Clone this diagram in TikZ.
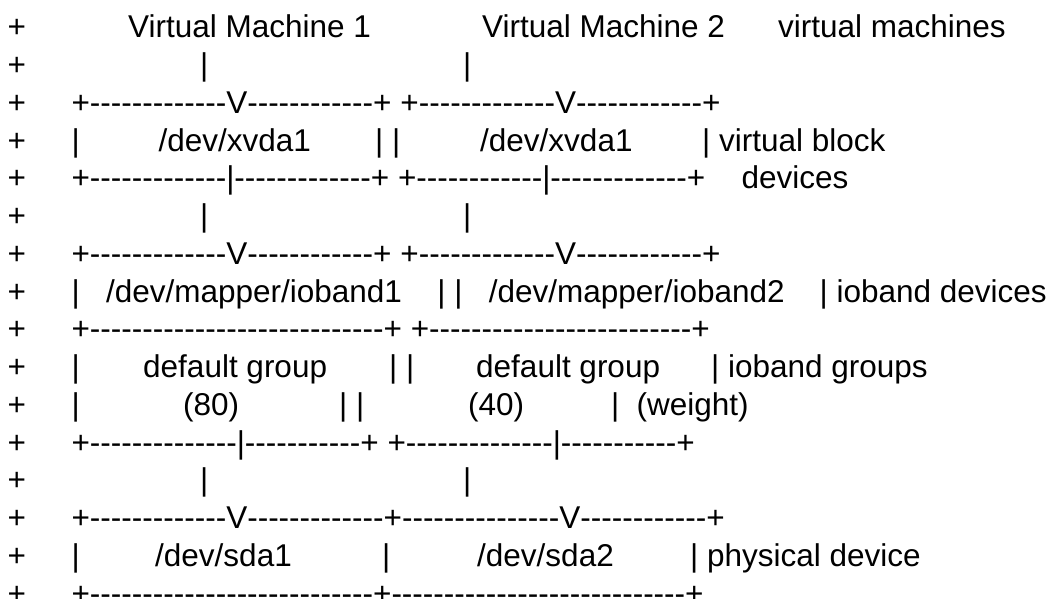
\documentclass[tikz,border=0pt]{standalone}
\usepackage{fontspec}
\newfontfamily\diagfont{Liberation Sans}
\newcommand{\dashes}[1]{\foreach \i in {1,...,#1}{\hbox{-}}}
\newcommand{\rowy}[1]{37.85+37.75*(#1-1)}

\begin{document}
\begin{tikzpicture}[x=1pt, y=-1pt,
    txt/.style={anchor=base west, inner sep=0pt,
      font=\diagfont\fontsize{31.5}{37.8}\selectfont}]
  \fill[white] (0, 0) rectangle (1062, 598);
  \useasboundingbox (0, 0) rectangle (1062, 598);

  % diff markers
  \foreach \k in {1,...,16} {
    \node[txt] (plus\k) at (7.5, {\rowy{\k}}) {+};
  }

  % virtual machines
  \node[txt] (vmA) at (128, {\rowy{1}}) {Virtual Machine 1};
  \node[txt] (vmB) at (482, {\rowy{1}}) {Virtual Machine 2};
  \node[txt] (lblvm) at (778, {\rowy{1}}) {virtual machines};

  \foreach \k in {2, 6, 13} {
    \node[txt] (downA\k) at (200, {\rowy{\k}}) {|};
    \node[txt] (downB\k) at (463, {\rowy{\k}}) {|};
  }

  % virtual block devices
  \foreach \k in {3, 7} {
    \node[txt] (topA\k) at (71.3, {\rowy{\k}}) {+\dashes{13}V\dashes{12}+};
    \node[txt] (topB\k) at (400.2, {\rowy{\k}}) {+\dashes{13}V\dashes{12}+};
  }
  \node[txt] (sideA4) at (71.3, {\rowy{4}}) {|};
  \node[txt] (xvdA) at (158.3, {\rowy{4}}) {/dev/xvda1};
  \node[txt] (sideM4) at (375, {\rowy{4}}) {| |};
  \node[txt] (xvdB) at (480, {\rowy{4}}) {/dev/xvda1};
  \node[txt] (lblvb) at (702, {\rowy{4}}) {| virtual block};
  \node[txt] (botA5) at (71.3, {\rowy{5}}) {+\dashes{13}|\dashes{13}+};
  \node[txt] (botB5) at (397.8, {\rowy{5}}) {+\dashes{12}|\dashes{13}+};
  \node[txt] (lbldev) at (741.5, {\rowy{5}}) {devices};

  % ioband devices and groups
  \node[txt] (sideA8) at (71.3, {\rowy{8}}) {|};
  \node[txt] (ibA) at (105.8, {\rowy{8}}) {/dev/mapper/ioband1};
  \node[txt] (sideM8) at (437.2, {\rowy{8}}) {| |};
  \node[txt] (ibB) at (488.6, {\rowy{8}}) {/dev/mapper/ioband2};
  \node[txt] (lblib) at (819.5, {\rowy{8}}) {| ioband devices};
  \node[txt] (midA9) at (71.3, {\rowy{9}}) {+\dashes{28}+};
  \node[txt] (midB9) at (410.6, {\rowy{9}}) {+\dashes{25}+};
  \node[txt] (sideA10) at (71.3, {\rowy{10}}) {|};
  \node[txt] (grpA) at (143, {\rowy{10}}) {default group};
  \node[txt] (sideM10) at (389, {\rowy{10}}) {| |};
  \node[txt] (grpB) at (476, {\rowy{10}}) {default group};
  \node[txt] (lblgrp) at (711, {\rowy{10}}) {| ioband groups};
  \node[txt] (sideA11) at (71.3, {\rowy{11}}) {|};
  \node[txt] (wA) at (183, {\rowy{11}}) {(80)};
  \node[txt] (sideM11) at (339, {\rowy{11}}) {| |};
  \node[txt] (wB) at (468, {\rowy{11}}) {(40)};
  \node[txt] (sideB11) at (611, {\rowy{11}}) {|};
  \node[txt] (lblw) at (636.5, {\rowy{11}}) {(weight)};
  \node[txt] (botA12) at (71.3, {\rowy{12}}) {+\dashes{14}|\dashes{11}+};
  \node[txt] (botB12) at (387.3, {\rowy{12}}) {+\dashes{14}|\dashes{11}+};

  % physical device
  \node[txt] (topP) at (71.3, {\rowy{14}}) {+\dashes{13}V\dashes{13}+\dashes{15}V\dashes{12}+};
  \node[txt] (sideA15) at (71.3, {\rowy{15}}) {|};
  \node[txt] (sdaA) at (155, {\rowy{15}}) {/dev/sda1};
  \node[txt] (sideM15) at (382, {\rowy{15}}) {|};
  \node[txt] (sdaB) at (477, {\rowy{15}}) {/dev/sda2};
  \node[txt] (lblpd) at (690, {\rowy{15}}) {| physical device};
  \node[txt] (botP) at (71.3, {\rowy{16}}) {+\dashes{27}+\dashes{28}+};
\end{tikzpicture}
\end{document}
